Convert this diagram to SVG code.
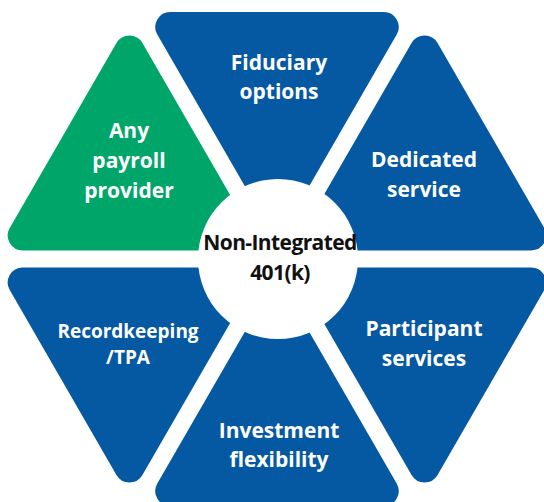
<svg xmlns="http://www.w3.org/2000/svg" width="544" height="502" viewBox="0 0 544 502">
<style>
.blue{fill:#0558A2}
.green{fill:#00A669}
.lbl{font-family:"Open Sans","Noto Sans","Liberation Sans",sans-serif;font-weight:700;font-size:21px;fill:#ffffff;text-anchor:middle}
.ctr{font-family:"Open Sans","Noto Sans","Liberation Sans",sans-serif;font-weight:700;font-size:21px;fill:#111111;text-anchor:middle;letter-spacing:-0.6px}
</style>
<defs>
<path id="tri" d="M277 242 L157.3 34.5 A15 15 0 0 1 170.3 12 L383.7 12 A15 15 0 0 1 396.7 34.5 Z"/>
</defs>
<rect width="544" height="502" fill="#ffffff"/>
<g id="fiduciary">
<use href="#tri" class="blue"/>
<text class="lbl" x="279" y="70">Fiduciary</text>
<text class="lbl" x="279" y="99">options</text>
</g>
<g id="dedicated">
<use href="#tri" class="blue" transform="rotate(60 277 259)"/>
<text class="lbl" x="424" y="167">Dedicated</text>
<text class="lbl" x="424" y="197">service</text>
</g>
<g id="participant">
<use href="#tri" class="blue" transform="rotate(120 277 259)"/>
<text class="lbl" x="424" y="336">Participant</text>
<text class="lbl" x="424" y="366">services</text>
</g>
<g id="investment">
<use href="#tri" class="blue" transform="rotate(180 277 259)"/>
<text class="lbl" x="279" y="438">Investment</text>
<text class="lbl" x="279" y="467">flexibility</text>
</g>
<g id="recordkeeping">
<use href="#tri" class="blue" transform="rotate(240 277 259)"/>
<text class="lbl" x="128" y="338" style="font-size:19px">Recordkeeping</text>
<text class="lbl" x="128" y="364" style="font-size:19px">/TPA</text>
</g>
<g id="payroll">
<use href="#tri" class="green" transform="rotate(300 277 259)"/>
<text class="lbl" x="129" y="138">Any</text>
<text class="lbl" x="129" y="168">payroll</text>
<text class="lbl" x="129" y="198">provider</text>
</g>
<g id="center">
<circle cx="278" cy="259" r="80" fill="#ffffff"/>
<text class="ctr" x="280" y="250">Non-Integrated</text>
<text class="ctr" x="280" y="280">401(k)</text>
</g>
<g id="connectors"/>
</svg>
